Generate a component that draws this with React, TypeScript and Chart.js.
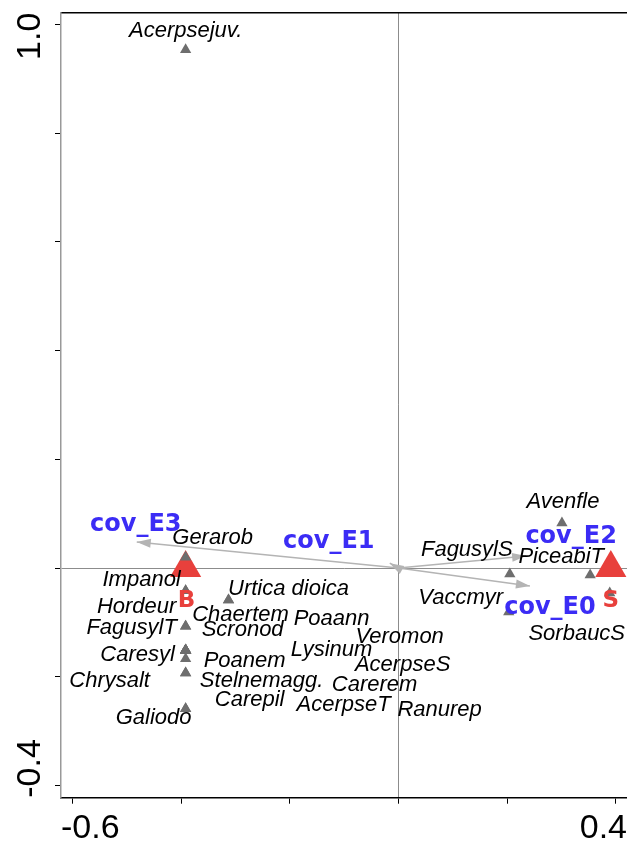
import React, { useEffect, useRef } from 'react';
import { Chart, registerables } from 'chart.js';

Chart.register(...registerables);

// ---------- data ----------
const speciesNames = [
  'Acerpsejuv.', 'Gerarob', 'Impanol', 'Hordeur', 'FagusylT', 'Caresyl', 'Chrysalt', 'Galiodo',
  'Urtica dioica', 'Chaertem', 'Scronod', 'Poanem', 'Stelnemagg.', 'Carepil',
  'Poaann', 'Lysinum', 'Veromon', 'AcerpseS', 'Carerem', 'AcerpseT', 'Ranurep',
  'Avenfle', 'FagusylS', 'PiceabiT', 'Vaccmyr', 'SorbaucS',
];
const speciesX = [
  -0.392, -0.392, -0.392, -0.392, -0.392, -0.392, -0.392, -0.392,
  -0.313, -0.313, -0.392, -0.392, -0.392, -0.392,
  -0.392, -0.392, -0.392, -0.392, -0.392, -0.392, -0.392,
  0.301, 0.205, 0.353, 0.203, 0.389,
];
const speciesY = [
  0.953, 0.020, -0.042, -0.042, -0.107, -0.151, -0.193, -0.259,
  -0.059, -0.059, -0.107, -0.167, -0.193, -0.259,
  -0.151, -0.151, -0.151, -0.151, -0.151, -0.151, -0.151,
  0.083, -0.011, -0.013, -0.081, -0.046,
];

const sampleNames = ['B', 'S'];
const sampleX = [-0.392, 0.391];
const sampleY = [0.0, 0.0];

const envNames = ['cov_E0', 'cov_E1', 'cov_E2', 'cov_E3'];
const envX = [0.242, -0.016, 0.235, -0.482];
const envY = [-0.033, 0.009, 0.022, 0.048];

const xTickValues = [-0.6, -0.4, -0.2, 0.0, 0.2, 0.4];
const xTickLabels = ['-0.6', '', '', '', '', '0.4'];
const yTickValues = [-0.4, -0.2, 0.0, 0.2, 0.4, 0.6, 0.8, 1.0];
const yTickLabels = ['-0.4', '', '', '', '', '', '', '1.0'];

const xRange = [-0.6215, 0.4208];
const yRange = [-0.4224, 1.0213];

// ---------- label layout (pixel offsets from the point) ----------
const speciesLabelDx = [0, 27, -44, -49, -54, -48, -76, -32, 60, 12, 57, 59, 76, 64, 146, 146, 214, 217, 189, 158, 254, 1, -43, -29, -48, -33];
const speciesLabelDy = [-19, -19, -11, 16, 2, 5, 8, 9, -11, 15, 4, 2, 8, -9, -31, 0, -13, 15, 35, 55, 60, -21, -24, -18, -14, 41];
const sampleLabelDx = [1, 0];
const sampleLabelDy = [33, 33];
const envLabelDx = [20, -61, 45, -1];
const envLabelDy = [22, -21, -19, -17];

const W_PX = 627;
const H_PX = 841;

const GREY_PT = '#6e6e6e';
const RED = '#e8403c';
const BLUE = '#3b2cf5';
const ARROW = '#b4b4b4';
const ZERO = '#8c8c8c';

const ordinationPlugin = {
  id: 'ordination',
  afterDatasetsDraw(chart: any) {
    const { ctx, chartArea } = chart;
    const xs = chart.scales.x;
    const ys = chart.scales.y;
    ctx.save();

    // arrow heads
    const ox = xs.getPixelForValue(0);
    const oy = ys.getPixelForValue(0);
    const L = 14;
    const W = 4.5;
    ctx.fillStyle = ARROW;
    envX.forEach((vx, i) => {
      const px = xs.getPixelForValue(vx);
      const py = ys.getPixelForValue(envY[i]);
      const a = Math.atan2(py - oy, px - ox);
      const c = Math.cos(a);
      const s = Math.sin(a);
      ctx.beginPath();
      ctx.moveTo(px, py);
      ctx.lineTo(px - L * c + W * s, py - L * s - W * c);
      ctx.lineTo(px - L * c - W * s, py - L * s + W * c);
      ctx.closePath();
      ctx.fill();
    });

    ctx.textAlign = 'center';
    ctx.textBaseline = 'middle';

    // species labels
    ctx.font = 'italic 22px "Liberation Sans", Arial, sans-serif';
    ctx.fillStyle = '#000';
    speciesNames.forEach((n, i) => {
      const px = xs.getPixelForValue(speciesX[i]) + speciesLabelDx[i];
      const py = ys.getPixelForValue(speciesY[i]) + speciesLabelDy[i];
      ctx.fillText(n, px, py);
    });

    // env labels
    ctx.font = 'bold 24px "DejaVu Sans", sans-serif';
    ctx.fillStyle = BLUE;
    envNames.forEach((n, i) => {
      const px = xs.getPixelForValue(envX[i]) + envLabelDx[i];
      const py = ys.getPixelForValue(envY[i]) + envLabelDy[i];
      ctx.fillText(n, px, py);
    });

    // sample labels
    ctx.font = 'bold 23px "DejaVu Sans", sans-serif';
    ctx.fillStyle = RED;
    sampleNames.forEach((n, i) => {
      const px = xs.getPixelForValue(sampleX[i]) + sampleLabelDx[i];
      const py = ys.getPixelForValue(sampleY[i]) + sampleLabelDy[i];
      ctx.fillText(n, px, py);
    });

    // tick labels
    ctx.font = '34px "Liberation Sans", Arial, sans-serif';
    ctx.fillStyle = '#000';
    ctx.textBaseline = 'alphabetic';
    ctx.textAlign = 'left';
    xTickValues.forEach((v, i) => {
      const lab = xTickLabels[i];
      if (!lab) return;
      const w = ctx.measureText(lab).width;
      const cx = xs.getPixelForValue(v);
      let left = cx - w / 2;
      left = Math.max(left, chartArea.left);
      left = Math.min(left, chart.width - w);
      ctx.fillText(lab, left, chartArea.bottom + 40);
    });
    yTickValues.forEach((v, i) => {
      const lab = yTickLabels[i];
      if (!lab) return;
      const w = ctx.measureText(lab).width;
      const cy = ys.getPixelForValue(v);
      let start = cy + w / 2;
      start = Math.min(start, chartArea.bottom);
      start = Math.max(start, chartArea.top + w);
      ctx.save();
      ctx.translate(chartArea.left - 21, start);
      ctx.rotate(-Math.PI / 2);
      ctx.fillText(lab, 0, 0);
      ctx.restore();
    });

    ctx.restore();
  },
};

export default function App() {
  const canvasRef = useRef<HTMLCanvasElement | null>(null);

  useEffect(() => {
    if (!canvasRef.current) return;
    const arrowSets = envNames.map((n, i) => ({
      type: 'line' as const,
      label: n,
      data: [
        { x: 0, y: 0 },
        { x: envX[i], y: envY[i] },
      ],
      borderColor: ARROW,
      borderWidth: 1.6,
      pointRadius: 0,
      fill: false,
      clip: false,
      order: 2,
    }));

    const chart = new Chart(canvasRef.current, {
      type: 'scatter',
      data: {
        datasets: [
          {
            label: 'species',
            data: speciesX.map((x, i) => ({ x, y: speciesY[i] })),
            pointStyle: 'triangle',
            pointRadius: 6.5,
            backgroundColor: GREY_PT,
            borderWidth: 0,
            clip: false,
            order: 0,
          },
          {
            label: 'samples',
            data: sampleX.map((x, i) => ({ x, y: sampleY[i] })),
            pointStyle: 'triangle',
            pointRadius: 18,
            backgroundColor: RED,
            borderWidth: 0,
            clip: false,
            order: 1,
          },
          ...(arrowSets as any[]),
        ],
      },
      options: {
        animation: false,
        responsive: false,
        maintainAspectRatio: false,
        devicePixelRatio: 1,
        events: [],
        layout: { autoPadding: false, padding: { top: 12.7, right: 0, bottom: 0, left: 0 } },
        plugins: {
          legend: { display: false },
          tooltip: { enabled: false },
        },
        scales: {
          x: {
            type: 'linear',
            position: 'bottom',
            min: xRange[0],
            max: xRange[1],
            afterBuildTicks: (s: any) => {
              s.ticks = xTickValues.map((v) => ({ value: v }));
            },
            afterFit: (s: any) => {
              s.height = 43.3;
            },
            ticks: { display: false },
            grid: {
              color: (c: any) => (c.tick && Math.abs(c.tick.value) < 1e-9 ? ZERO : 'rgba(0,0,0,0)'),
              tickColor: '#000',
              tickLength: 6,
              lineWidth: 1,
            },
            border: { color: '#000', width: 1.5 },
          },
          x2: {
            type: 'linear',
            position: 'top',
            min: xRange[0],
            max: xRange[1],
            afterFit: (s: any) => {
              s.height = 0;
            },
            ticks: { display: false },
            grid: { drawTicks: false, drawOnChartArea: false },
            border: { color: '#000', width: 1.5 },
          },
          y: {
            type: 'linear',
            position: 'left',
            min: yRange[0],
            max: yRange[1],
            afterBuildTicks: (s: any) => {
              s.ticks = yTickValues.map((v) => ({ value: v }));
            },
            afterFit: (s: any) => {
              s.width = 61;
            },
            ticks: { display: false },
            grid: {
              color: (c: any) => (c.tick && Math.abs(c.tick.value) < 1e-9 ? ZERO : 'rgba(0,0,0,0)'),
              tickColor: '#000',
              tickLength: 6,
              lineWidth: 1,
            },
            border: { color: '#999', width: 1.5 },
          },
        },
      } as any,
      plugins: [ordinationPlugin],
    });
    return () => chart.destroy();
  }, []);

  return (
    <div
      style={{
        position: 'fixed',
        left: 0,
        top: 0,
        width: W_PX,
        height: H_PX,
        overflow: 'hidden',
        background: '#fff',
      }}
    >
      <canvas ref={canvasRef} width={W_PX} height={H_PX} style={{ display: 'block', width: W_PX, height: H_PX }} />
    </div>
  );
}
